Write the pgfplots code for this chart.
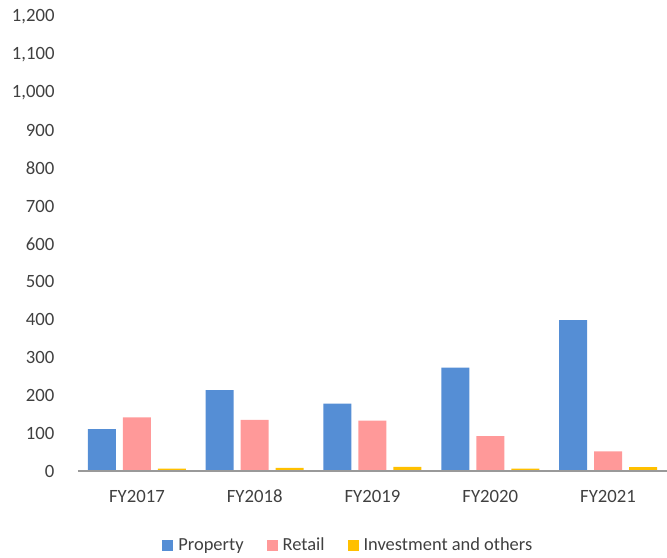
\documentclass[border=0pt]{standalone}
\usepackage{pgfplots}
\pgfplotsset{compat=1.18}
\usepackage{fontspec}
\setmainfont{Carlito}
\definecolor{cprop}{HTML}{558ED5}
\definecolor{cret}{HTML}{FF9999}
\definecolor{cinv}{HTML}{FFC000}
\definecolor{ctext}{HTML}{404040}
\definecolor{caxis}{HTML}{999999}
\begin{document}
\begin{tikzpicture}
\begin{axis}[
  at={(0,0)}, anchor=south west,
  scale only axis,
  width=589bp, height=454bp,
  ybar=7bp, bar width=28bp,
  xmin=-0.5, xmax=4.5,
  ymin=0, ymax=1200,
  xtick=data,
  xticklabels={FY2017,FY2018,FY2019,FY2020,FY2021},
  ytick={0,100,...,1200},
  scaled y ticks=false,
  /pgf/number format/assume math mode=true,
  /pgf/number format/1000 sep={,},
  major tick length=0pt,
  axis x line*=bottom,
  axis y line*=left,
  axis line style={draw=none},
  tick label style={font=\fontsize{18.8}{22}\selectfont, text=ctext},
  yticklabel style={anchor=east, xshift=-20bp},
  xticklabel style={anchor=north, text height=13bp, text depth=0bp, yshift=-15bp},
  extra description/.code={\draw[caxis, line width=1.5pt] (rel axis cs:0,0) -- (rel axis cs:1,0);},
  legend style={at={(0.459,-0.163)}, anchor=center, draw=none, fill=none,
    font=\fontsize{18.5}{22}\selectfont, text=ctext,
    legend columns=-1,
    /tikz/every odd column/.append style={column sep=3bp},
    /tikz/every even column/.append style={column sep=21bp}},
  legend image code/.code={\fill[#1] (0bp,-5.5bp) rectangle (11bp,5.5bp);},
]
\addplot[fill=cprop, draw=none] coordinates {(0,111) (1,214) (2,178) (3,273) (4,399)};
\addplot[fill=cret, draw=none] coordinates {(0,142) (1,135) (2,133) (3,92) (4,52)};
\addplot[fill=cinv, draw=none] coordinates {(0,6) (1,8) (2,11) (3,6) (4,10)};
\legend{Property, Retail, Investment and others}
\end{axis}
\pgfresetboundingbox
\path (-78bp,-87bp) rectangle (589bp,471bp);
\end{tikzpicture}
\end{document}
